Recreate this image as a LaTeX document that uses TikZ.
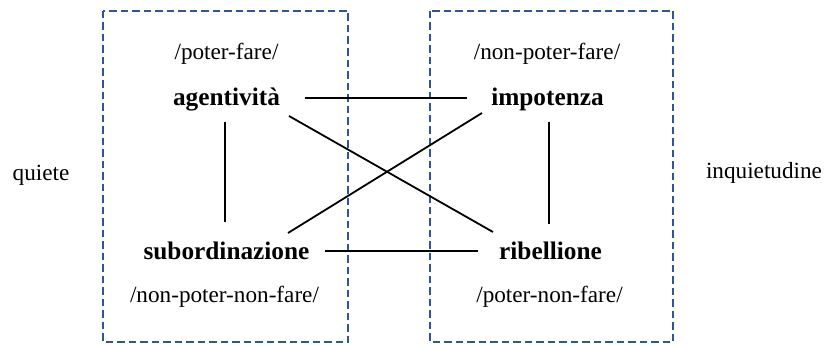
\documentclass[tikz,border=0pt]{standalone}
\usepackage{fontspec}
\setmainfont{Liberation Serif}
\usetikzlibrary{calc}
\definecolor{frameblue}{RGB}{47,85,151}
\begin{document}
\begin{tikzpicture}[x=1pt,y=-1pt,
  term/.style={font=\fontsize{25.3}{28}\selectfont\bfseries, inner sep=0pt, anchor=base,
               text height=18pt, text depth=5pt},
  modal/.style={font=\fontsize{23.2}{26}\selectfont, inner sep=0pt, anchor=base},
  link/.style={line width=1.8pt, black},
  frame/.style={line width=2pt, frameblue, dash pattern=on 7.5pt off 4pt}]
\useasboundingbox (0,0) rectangle (824,345);

% dashed frames
\draw[frame] (103,11) rectangle (348,342);
\draw[frame] (430,11) rectangle (673,342);

% modal labels
\node[modal] (pf)   at (226.5,59.5) {/poter-fare/};
\node[modal] (npf)  at (547,59.5)   {/non-poter-fare/};
\node[modal] (npnf) at (224.5,302)  {/non-poter-non-fare/};
\node[modal] (pnf)  at (549.5,302)  {/poter-non-fare/};
\node[modal] (qui)  at (41,180)     {quiete};
\node[modal] (inq)  at (764,178)    {inquietudine};

% square terms
\node[term] (ag)  at (226.5,105) {agentività};
\node[term] (im)  at (547.5,105) {impotenza};
\node[term] (sub) at (226.5,259) {subordinazione};
\node[term] (rib) at (550.5,259) {ribellione};

% connectors
\draw[link] ($(ag.east)+(25,-0.5)$) -- ($(im.west)+(-24,-0.5)$);
\draw[link] ($(sub.east)+(15,-1.5)$) -- ($(rib.west)+(-21,-1.5)$);
\draw[link] ($(ag.south)+(-1.5,12)$) -- ($(sub.north)+(-1.5,-19)$);
\draw[link] ($(im.south)+(1.5,12)$) -- ($(rib.north)+(-1.5,-17)$);
\draw[link] ($(ag.center)+(62.5,17.5)$) -- ($(rib.center)+(-57.5,-20.5)$);
\draw[link] ($(im.center)+(-65.5,14.5)$) -- ($(sub.center)+(61.5,-19.5)$);
\end{tikzpicture}
\end{document}
